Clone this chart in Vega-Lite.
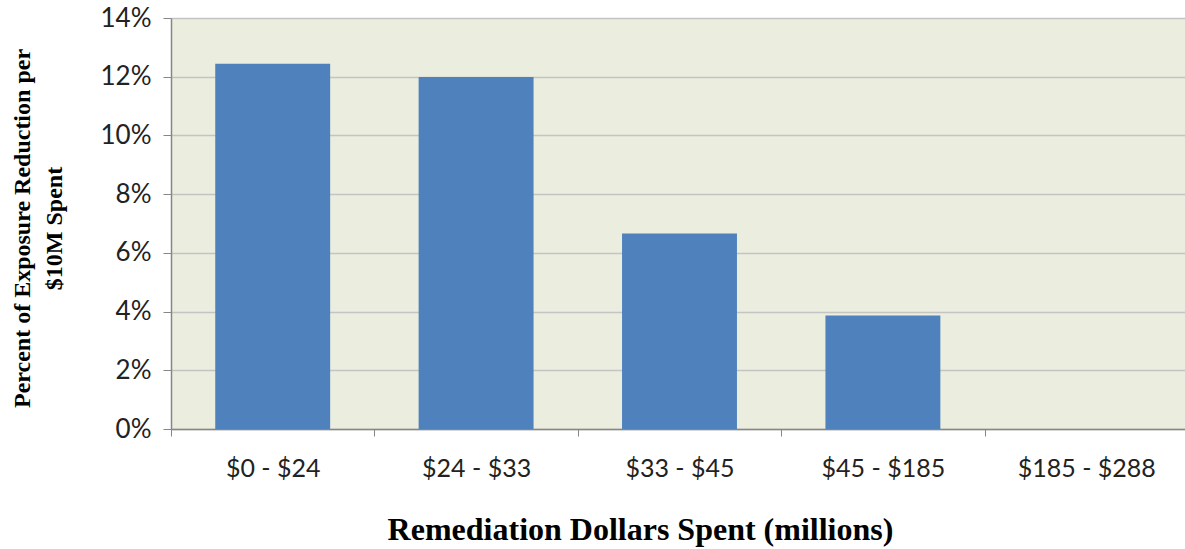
{
  "$schema": "https://vega.github.io/schema/vega-lite/v6.json",
  "width": 1017,
  "height": 411,
  "autosize": {"type": "none"},
  "padding": {"left": 171, "top": 18, "right": 0, "bottom": 120},
  "background": "white",
  "config": {
    "view": {"fill": "#EBEEDF", "stroke": null},
    "font": "Lato"
  },
  "data": {
    "values": [
      {"range": "$0 - $24", "pct": 0.1244},
      {"range": "$24 - $33", "pct": 0.1199},
      {"range": "$33 - $45", "pct": 0.0666},
      {"range": "$45 - $185", "pct": 0.0387},
      {"range": "$185 - $288", "pct": 0.0}
    ]
  },
  "mark": {"type": "bar", "color": "#4F81BD", "width": {"band": 0.565}},
  "encoding": {
    "x": {
      "field": "range",
      "type": "nominal",
      "sort": null,
      "scale": {"paddingInner": 0, "paddingOuter": 0},
      "axis": {
        "title": "Remediation Dollars Spent (millions)",
        "titleFont": "Liberation Serif",
        "titleFontWeight": "bold",
        "titleFontSize": 32,
        "titleColor": "#000000",
        "titleX": 469,
        "titleAlign": "center",
        "titlePadding": 33,
        "labelAngle": 0,
        "labelFontSize": 25,
        "labelColor": "#222222",
        "labelPadding": 20,
        "tickBand": "extent",
        "tickSize": 7,
        "tickColor": "#868686",
        "domainColor": "#868686",
        "domainWidth": 1.5,
        "grid": false
      }
    },
    "y": {
      "field": "pct",
      "type": "quantitative",
      "scale": {"domain": [0, 0.14], "nice": false},
      "axis": {
        "title": ["Percent of Exposure Reduction per", "$10M Spent"],
        "titleFont": "Liberation Serif",
        "titleFontWeight": "bold",
        "titleFontSize": 24,
        "titleColor": "#000000",
        "titleLineHeight": 32,
        "titleX": -161,
        "titleY": 210,
        "titleAlign": "center",
        "titleBaseline": "top",
        "values": [0, 0.02, 0.04, 0.06, 0.08, 0.1, 0.12, 0.14],
        "format": ".0%",
        "labelFontSize": 26,
        "labelColor": "#222222",
        "labelPadding": 12,
        "tickSize": 8,
        "tickColor": "#868686",
        "domainColor": "#868686",
        "domainWidth": 1.5,
        "gridColor": "#C4C4C4",
        "gridWidth": 1.5
      }
    }
  }
}
